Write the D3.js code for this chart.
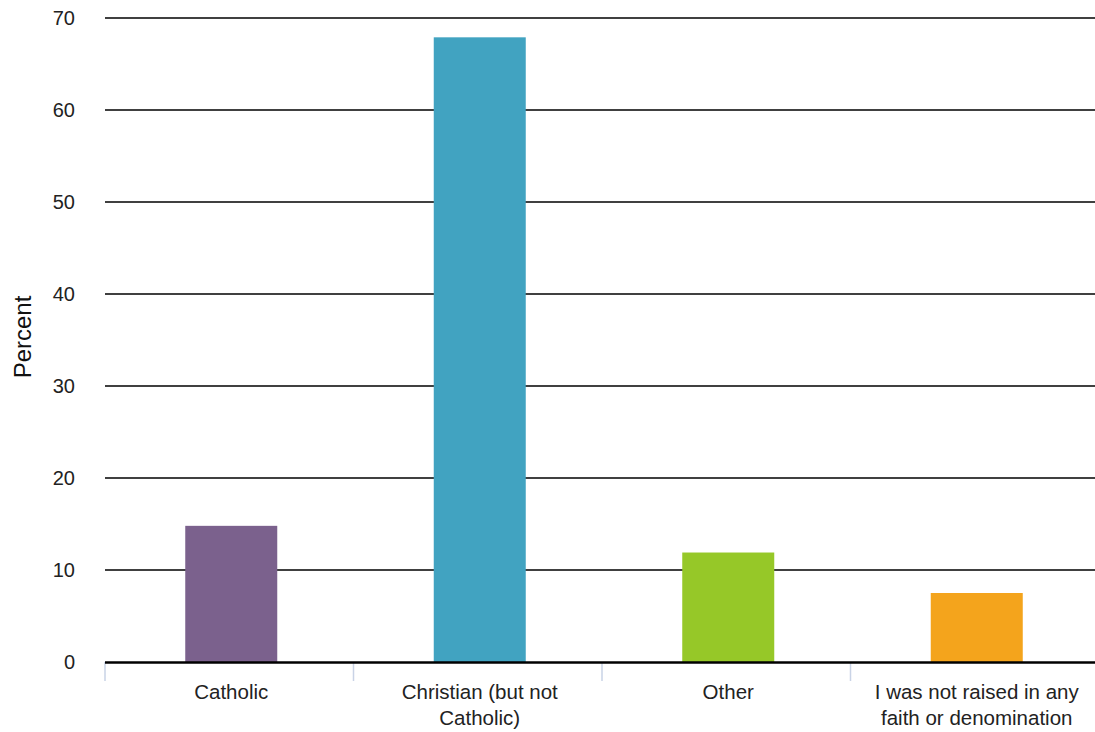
<!DOCTYPE html>
<html><head><meta charset="utf-8">
<script src="https://cdn.jsdelivr.net/npm/d3@7"></script>
<style>body{margin:0;background:#fff}svg{display:block;font-family:"Liberation Sans",Arial,sans-serif}</style>
</head><body><svg id="c" width="1095" height="732"></svg>
<script>
const categories = ["Catholic", "Christian (but not Catholic)", "Other", "I was not raised in any faith or denomination"];
const labelLines = [["Catholic"], ["Christian (but not", "Catholic)"], ["Other"], ["I was not raised in any", "faith or denomination"]];
const values = [14.8, 67.9, 11.9, 7.5];
const colors = ["#7b618d", "#41a3c1", "#96c828", "#f4a41c"];
const yTicks = [0, 10, 20, 30, 40, 50, 60, 70];

(function () {
const svg = d3.select("#c");
const pLeft = 105, pRight = 1095, pTop = 18, pBottom = 662;
const x = d3.scaleBand().domain(categories).range([pLeft, 1099]);
const y = d3.scaleLinear().domain([0, 70]).range([pBottom, pTop]);
const barW = 92;

// gridlines
svg.append("g").selectAll("line").data(yTicks.filter(d => d > 0)).join("line")
  .attr("x1", pLeft).attr("x2", pRight).attr("y1", d => y(d)).attr("y2", d => y(d))
  .attr("stroke", "#000").attr("stroke-width", 1.5);

// y labels
svg.append("g").selectAll("text").data(yTicks).join("text")
  .attr("x", 75).attr("y", d => y(d)).attr("dy", "0.35em").attr("text-anchor", "end")
  .attr("font-size", 20).attr("fill", "#222").text(d => d);

// bars
svg.append("g").selectAll("rect").data(categories).join("rect")
  .attr("x", d => x(d) + (x.bandwidth() - barW) / 2 + 2)
  .attr("width", barW)
  .attr("y", (d, i) => y(values[i]))
  .attr("height", (d, i) => pBottom - y(values[i]))
  .attr("fill", (d, i) => colors[i]);

// category separator ticks
svg.append("g").selectAll("line").data(categories).join("line")
  .attr("x1", d => x(d)).attr("x2", d => x(d)).attr("y1", pBottom).attr("y2", 681)
  .attr("stroke", "#c9d3e6").attr("stroke-width", 1.5);

// baseline
svg.append("line").attr("x1", pLeft).attr("x2", pRight).attr("y1", pBottom + 0.5).attr("y2", pBottom + 0.5)
  .attr("stroke", "#000").attr("stroke-width", 2.5);

// x labels
const xl = svg.append("g").selectAll("text").data(categories).join("text")
  .attr("x", d => x(d) + x.bandwidth() / 2 + 2).attr("y", 699)
  .attr("text-anchor", "middle").attr("font-size", 20.5).attr("fill", "#222");
xl.each(function (d, i) {
  d3.select(this).selectAll("tspan").data(labelLines[i]).join("tspan")
    .attr("x", x(d) + x.bandwidth() / 2 + 2).attr("dy", (t, j) => j === 0 ? 0 : 26).text(t => t);
});

// y title
svg.append("text").attr("transform", "translate(31,337) rotate(-90)")
  .attr("text-anchor", "middle").attr("font-size", 24).attr("fill", "#111").text("Percent");
})();
</script></body></html>
